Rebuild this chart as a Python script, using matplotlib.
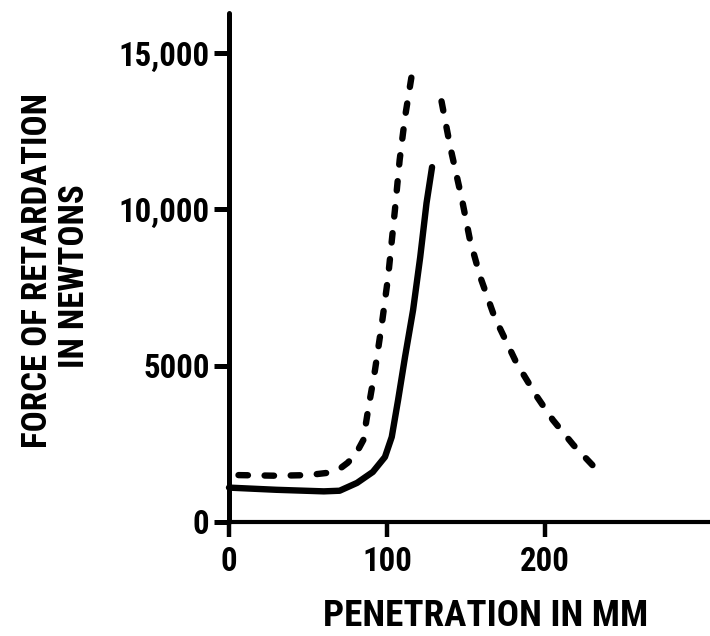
import matplotlib
matplotlib.use("Agg")
import matplotlib.pyplot as plt
from matplotlib import font_manager as fm
from matplotlib.textpath import TextPath
import numpy as np

# ---- data ----
solid_x = [0, 30, 60, 70, 81, 91, 98.7, 103, 107, 111.4, 116.5, 121, 125, 128.5]
solid_y = [1100, 1030, 980, 1000, 1250, 1600, 2080, 2720, 3900, 5280, 6780, 8470, 10200, 11350]

dash_rise_x = [6, 30, 50, 62, 70, 75, 80, 85, 88, 92.4, 96.8, 100.7, 105, 108, 111.4, 116]
dash_rise_y = [1500, 1480, 1500, 1570, 1700, 1890, 2150, 2620, 3580, 4860, 6360, 7840, 9980, 11580, 12950, 14400]

dash_fall_x = [133, 140, 147.5, 152.5, 159, 168, 182, 195, 205, 218, 230]
dash_fall_y = [13850, 12000, 10300, 9020, 7840, 6560, 5080, 4000, 3260, 2460, 1820]

x_ticks = [0, 100, 200]
x_tick_labels = ["0", "100", "200"]
y_ticks = [0, 5000, 10000, 15000]
y_tick_labels = ["0", "5000", "10,000", "15,000"]

x_label = "PENETRATION IN MM"
y_label_1 = "FORCE OF RETARDATION"
y_label_2 = "IN NEWTONS"

# ---- pick a heavy condensed font if one is installed ----
preferred = ['RobotoCondensed-Black.', 'RobotoCondensed-ExtraBold.',
             'LiberationSansNarrow-Bold.', 'RobotoCondensed-Bold.', 'Oswald-Bold.',
             'BarlowCondensed-Bold.', 'ArchivoNarrow-Bold.', 'PTSansNarrow-Bold.',
             'PT_Sans-Narrow-Web-Bold', 'FiraSansCondensed-Bold.', 'IBMPlexSansCondensed-Bold.',
             'UbuntuCondensed', 'OpenSans_Condensed-Bold.', 'OpenSansCondensed-Bold.',
             'NotoSans-CondensedBold.', 'DejaVuSansCondensed-Bold.', 'Oswald']
files = [f.fname for f in fm.fontManager.ttflist]
chosen = None
for key in preferred:
    for fn in files:
        if key in fn.split('/')[-1]:
            chosen = fn
            break
    if chosen:
        break
if chosen:
    FP = fm.FontProperties(fname=chosen)
else:
    FP = fm.FontProperties(family='DejaVu Sans', weight='bold', stretch='condensed')

PX_PER_PT = 100 / 72


def fit_size(text, target_w_px, target_h_px):
    ext = TextPath((0, 0), text, size=100, prop=FP).get_extents()
    w_pt = target_w_px / PX_PER_PT
    h_pt = target_h_px / PX_PER_PT
    s_w = w_pt / (ext.width / 100)
    s_h = h_pt / (ext.height / 100)
    return float(np.sqrt(s_w * s_h))


xl_size = fit_size(x_label, 322, 27)
yl_size = 0.6 * fit_size(y_label_1, 357, 22.5) + 0.4 * fit_size(y_label_2, 233, 23)
tk_size = 0.5 * fit_size("200", 55, 26) + 0.5 * fit_size("15,000", 73, 27)

plt.rcParams['lines.scale_dashes'] = False

W, H = 710, 636
fig = plt.figure(figsize=(W / 100, H / 100), dpi=100)
ax = fig.add_axes([229 / W, (H - 522) / H, (W - 229) / W, (522 - 13) / H])

ax.plot(solid_x, solid_y, color='black', lw=4.6, solid_capstyle='round',
        solid_joinstyle='round', clip_on=False)

dash_style = dict(color='black', lw=4.6, linestyle=(0, (6.8, 12.0)),
                  dash_capstyle='round', dash_joinstyle='round', clip_on=False)
ax.plot(dash_rise_x, dash_rise_y, **dash_style)
ax.plot(dash_fall_x[::-1], dash_fall_y[::-1], **dash_style)

ax.set_xlim(0, 304.4)
ax.set_ylim(0, 16280)

for s in ['top', 'right']:
    ax.spines[s].set_visible(False)
ax.spines['left'].set_linewidth(3.6)
ax.spines['bottom'].set_linewidth(3.0)
ax.spines['left'].set_capstyle('round')

ax.set_xticks(x_ticks)
ax.set_xticklabels(x_tick_labels)
ax.set_yticks(y_ticks)
ax.set_yticklabels(y_tick_labels)
ax.tick_params(axis='x', direction='out', length=11, width=3.2, pad=6)
ax.tick_params(axis='y', direction='out', length=11, width=3.6, pad=3)
for lab in ax.get_xticklabels() + ax.get_yticklabels():
    lab.set_fontproperties(FP)
    lab.set_fontsize(tk_size)
    lab.set_fontweight('bold')

fig.text(486 / W, 1.5 / H, x_label, ha='center', va='bottom',
         fontproperties=FP, fontsize=xl_size, fontweight='bold')
fig.text(38 / W, 1 - 271 / H, y_label_1, ha='center', va='center',
         rotation=90, fontproperties=FP, fontsize=yl_size, fontweight='bold')
fig.text(75 / W, 1 - 276 / H, y_label_2, ha='center', va='center',
         rotation=90, fontproperties=FP, fontsize=yl_size, fontweight='bold')

fig.savefig('out.png', dpi=100)
